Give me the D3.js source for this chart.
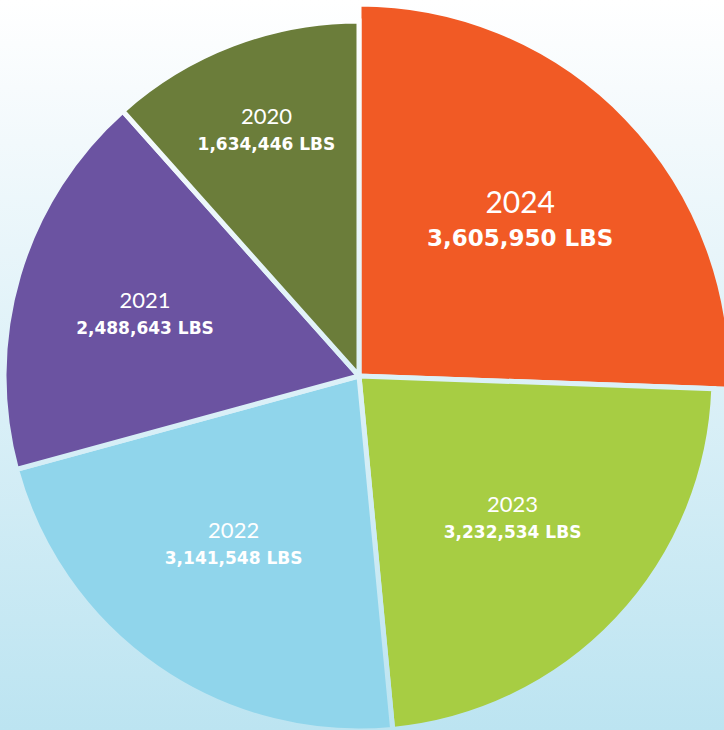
<!DOCTYPE html>
<html>
<head>
<meta charset="utf-8">
<script src="https://cdn.jsdelivr.net/npm/d3@7"></script>
<style>
    html, body { margin: 0; padding: 0; overflow: hidden; }
</style>
</head>
<body>
<div id="canvas"></div>
<script>
// data, clockwise from 12 o'clock
const years = ["2024", "2023", "2022", "2021", "2020"];
const pounds = [3605950, 3232534, 3141548, 2488643, 1634446];
const sliceColors = ["#f15a25", "#a7cd43", "#90d5eb", "#6b53a1", "#6b7d3a"];

const width = 724;
const height = 730;
const cx = 359;
const cy = 376;
const radius = 355;
const gap = 5;

const data = years.map((year, i) => ({ year, value: pounds[i] }));

const svg = d3.select("#canvas").append("svg")
    .attr("width", width)
    .attr("height", height);

const defs = svg.append("defs");

// background gradient, once for the page and once (same look) for the slice gaps
function addGradient(id, y1, y2) {
    const g = defs.append("linearGradient")
        .attr("id", id)
        .attr("gradientUnits", "userSpaceOnUse")
        .attr("x1", 0).attr("y1", y1)
        .attr("x2", 0).attr("y2", y2);
    g.append("stop").attr("offset", "0%").attr("stop-color", "#ffffff");
    g.append("stop").attr("offset", "12%").attr("stop-color", "#f7fbfd");
    g.append("stop").attr("offset", "100%").attr("stop-color", "#bce4f1");
}
addGradient("bg", 0, height);
addGradient("bgGap", -cy, height - cy);

svg.append("rect")
    .attr("width", width)
    .attr("height", height)
    .attr("fill", "url(#bg)");

const graph = svg.append("g")
    .attr("transform", `translate(${cx},${cy})`);

const color = d3.scaleOrdinal()
    .domain(years)
    .range(sliceColors);

const pie = d3.pie()
    .sort(null)
    .value(d => d.value);

const arcs = pie(data);

// 2024 slice is drawn a bit bigger than the rest
const outer = d => d.data.year === "2024" ? radius + 17 : radius;

const arc = d3.arc()
    .innerRadius(0)
    .outerRadius(outer);

graph.selectAll("path")
    .data(arcs)
    .enter().append("path")
    .attr("d", arc)
    .attr("fill", d => color(d.data.year))
    .attr("stroke", "url(#bgGap)")
    .attr("stroke-width", gap)
    .attr("stroke-linejoin", "miter");

// labels sit near the slice mid angle (radius + small angle nudge in degrees)
const labelRadius = { "2024": 224, "2023": 211, "2022": 212, "2021": 222, "2020": 260 };
const labelNudge = { "2024": 0, "2023": 0, "2022": 1.6, "2021": -1.1, "2020": 0 };
const labelPos = d => {
    const r = labelRadius[d.data.year];
    const a = (d.startAngle + d.endAngle) / 2 + labelNudge[d.data.year] * Math.PI / 180;
    return [r * Math.sin(a), -r * Math.cos(a)];
};

const big = d => d.data.year === "2024";

const labels = graph.selectAll(".label")
    .data(arcs)
    .enter().append("g")
    .attr("class", "label")
    .attr("transform", d => `translate(${labelPos(d)})`)
    .attr("fill", "#ffffff")
    .attr("text-anchor", "middle");

labels.append("text")
    .attr("y", d => big(d) ? -7 : -9)
    .style("font-family", "Lato, 'Open Sans', sans-serif")
    .style("font-size", d => big(d) ? "30px" : "22px")
    .style("font-weight", 400)
    .text(d => d.data.year);

labels.append("text")
    .attr("y", d => big(d) ? 26 : 17)
    .style("font-family", "'DejaVu Sans', sans-serif")
    .style("font-size", d => big(d) ? "23px" : "17px")
    .style("font-weight", 700)
    .text(d => `${d3.format(",")(d.data.value)} LBS`);
</script>
</body>
</html>
